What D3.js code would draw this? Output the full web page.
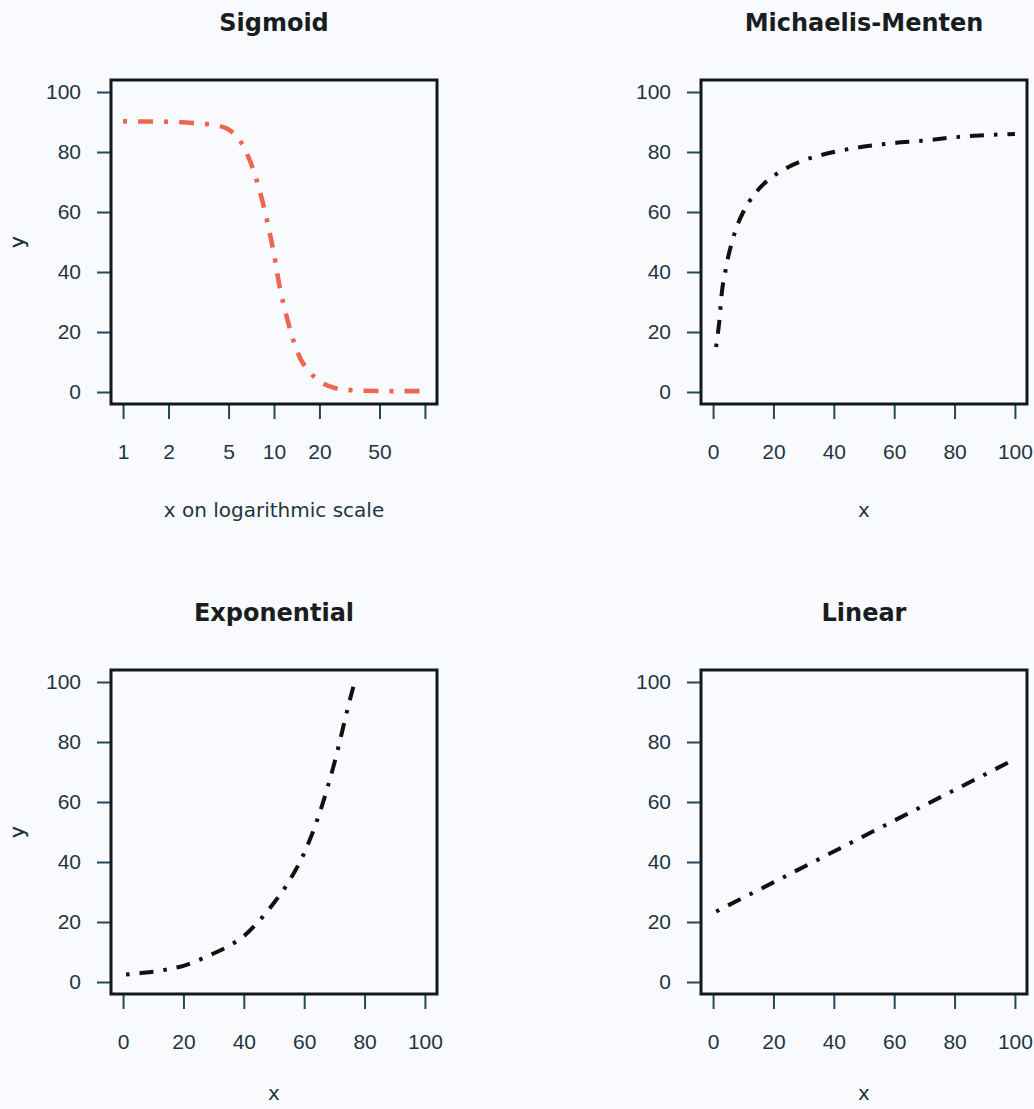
<!DOCTYPE html>
<html>
<head>
<meta charset="utf-8">
<script src="https://cdn.jsdelivr.net/npm/d3@7"></script>
<style>
  html, body { margin: 0; padding: 0; background: #f9fafd; }
  svg { display: block; }
</style>
</head>
<body>
<svg id="chart" width="1034" height="1109"></svg>
<script>
// ---- data ---------------------------------------------------------------
const panelTitles = ["Sigmoid", "Michaelis-Menten", "Exponential", "Linear"];
const xAxisTitles = ["x on logarithmic scale", "x", "x", "x"];
const yAxisTitle = "y";

const yTicks = [0, 20, 40, 60, 80, 100];
const xTicksLinear = [0, 20, 40, 60, 80, 100];
const xTicksLog = [1, 2, 5, 10, 20, 50, 100];
const xTickLabelsLog = ["1", "2", "5", "10", "20", "50", ""];

// Sigmoid response against dose on a log axis
const sigmoidX = [1, 2, 3, 4, 5, 6, 7, 8, 9, 10, 11, 12, 13, 15, 17, 20, 25, 30, 40, 60, 100];
const sigmoidY = [90.2, 90.1, 89.6, 89, 87.5, 83.5, 76.5, 67.5, 57, 46, 34, 26, 19.5, 11, 7, 3.6, 1.4, 0.8, 0.4, 0.3, 0.3];

// Saturating Michaelis-Menten curve
const mmX = [1, 2, 3, 4, 5, 6, 8, 10, 12, 15, 20, 25, 30, 40, 50, 60, 70, 80, 90, 100];
const mmY = [15, 23, 34, 39.8, 45, 49, 55.5, 60, 63.5, 67.5, 72, 75, 77.2, 80, 81.8, 83, 83.8, 84.9, 85.6, 86];

// Exponential growth
const expX = [1, 5, 10, 15, 20, 25, 30, 35, 40, 45, 50, 55, 60, 65, 70, 75, 77];
const expY = [2.5, 2.9, 3.4, 4.3, 5.4, 7.3, 9.5, 12, 15.3, 20.3, 26.4, 33.6, 43, 56, 73, 93.5, 101];

// Straight line
const linX = [1, 20, 40, 60, 80, 100];
const linY = [23.5, 33.2, 43.5, 53.8, 64, 74.3];

// ---- layout -------------------------------------------------------------
const boxW = 326, boxH = 324;
const boxLefts = [111, 701];
const boxTops = [80, 670];
const xTitleOffsets = [113, 106];   // baseline below the frame, per row

const svg = d3.select("#chart");
svg.append("rect").attr("width", 1034).attr("height", 1109).attr("fill", "#f9fafd");

const panels = [
  { title: panelTitles[0], xlab: xAxisTitles[0], log: true,  xs: sigmoidX, ys: sigmoidY, color: "#ee6650", width: 4.6, dash: "4,11,15,11" },
  { title: panelTitles[1], xlab: xAxisTitles[1], log: false, xs: mmX,      ys: mmY,      color: "#111111", width: 4,   dash: "3.5,10,14,10" },
  { title: panelTitles[2], xlab: xAxisTitles[2], log: false, xs: expX,     ys: expY,     color: "#111111", width: 4,   dash: "3.5,10,14,10" },
  { title: panelTitles[3], xlab: xAxisTitles[3], log: false, xs: linX,     ys: linY,     color: "#111111", width: 4,   dash: "3.5,10,14,10" }
];

const tickColor = "#24495a";
const labelColor = "#1f3540";
const tickFont = "'Liberation Sans', Arial, sans-serif";
const textFont = "'DejaVu Sans', Verdana, sans-serif";

panels.forEach((p, i) => {
  const row = Math.floor(i / 2);
  const left = boxLefts[i % 2];
  const top = boxTops[row];
  const g = svg.append("g").attr("transform", `translate(${left},${top})`);

  // scales padded by 4% of the range on each side
  const y = d3.scaleLinear().domain([-4, 104]).range([boxH, 0]);
  const x = p.log
    ? d3.scaleLog().domain([Math.pow(10, -0.08), Math.pow(10, 2.08)]).range([0, boxW])
    : d3.scaleLinear().domain([-4, 104]).range([0, boxW]);

  // y axis
  const yAxis = d3.axisLeft(y).tickValues(yTicks).tickSize(14).tickPadding(16)
    .tickFormat(d3.format("d"));
  const ya = g.append("g").call(yAxis);
  ya.select(".domain").remove();
  ya.selectAll(".tick line").attr("stroke", tickColor).attr("stroke-width", 2);
  ya.selectAll(".tick text").attr("fill", labelColor)
    .style("font-family", tickFont).style("font-size", "21px");

  // x axis
  const xAxis = p.log
    ? d3.axisBottom(x).tickValues(xTicksLog).tickFormat((d, k) => xTickLabelsLog[k])
    : d3.axisBottom(x).tickValues(xTicksLinear).tickFormat(d3.format("d"));
  xAxis.tickSize(15).tickPadding(25);
  const xa = g.append("g").attr("transform", `translate(0,${boxH})`).call(xAxis);
  xa.select(".domain").remove();
  xa.selectAll(".tick line").attr("stroke", tickColor).attr("stroke-width", 2);
  xa.selectAll(".tick text").attr("fill", labelColor)
    .style("font-family", tickFont).style("font-size", "21px");

  // curve, clipped to the plotting box
  const clipId = "clip" + i;
  g.append("clipPath").attr("id", clipId)
    .append("rect").attr("width", boxW).attr("height", boxH);
  const pts = p.xs.map((v, k) => [v, p.ys[k]]);
  const line = d3.line().x(d => x(d[0])).y(d => y(d[1])).curve(d3.curveMonotoneX);
  g.append("path")
    .attr("clip-path", `url(#${clipId})`)
    .attr("d", line(pts))
    .attr("fill", "none")
    .attr("stroke", p.color)
    .attr("stroke-width", p.width)
    .attr("stroke-dasharray", p.dash)
    .attr("stroke-linecap", "butt");

  // frame
  g.append("rect").attr("width", boxW).attr("height", boxH)
    .attr("fill", "none").attr("stroke", "#0f1a1e").attr("stroke-width", 3);

  // title
  g.append("text")
    .attr("x", boxW / 2).attr("y", -49)
    .attr("text-anchor", "middle")
    .attr("fill", "#1a1d20")
    .style("font-family", textFont).style("font-weight", "bold").style("font-size", "24px")
    .text(p.title);

  // axis titles
  g.append("text")
    .attr("x", boxW / 2).attr("y", boxH + xTitleOffsets[row])
    .attr("text-anchor", "middle")
    .attr("fill", labelColor)
    .style("font-family", textFont).style("font-size", "20px")
    .text(p.xlab);

  g.append("text")
    .attr("transform", `translate(${24 - left},${boxH / 2}) rotate(-90)`)
    .attr("text-anchor", "middle")
    .attr("fill", labelColor)
    .style("font-family", textFont).style("font-size", "20px")
    .text(yAxisTitle);
});
</script>
</body>
</html>
